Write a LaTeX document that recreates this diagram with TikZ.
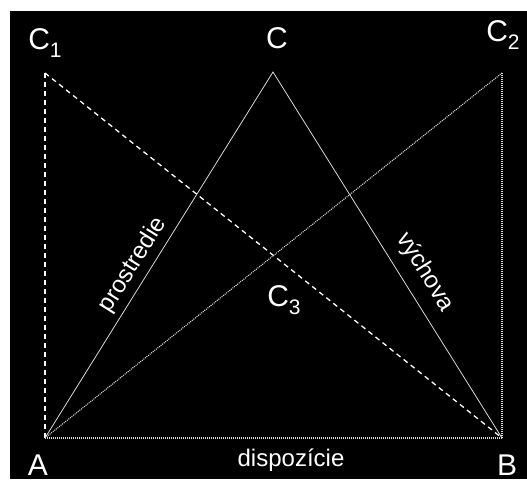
\documentclass[tikz,border=0pt]{standalone}
\usepackage{fontspec}
\setmainfont{Liberation Sans}
\definecolor{lineclr}{gray}{0.85}
\usetikzlibrary{positioning,calc}
\tikzset{
  solidln/.style={lineclr,line width=0.8pt},
  dashln/.style={white,line width=1.3pt,dash pattern=on 5pt off 4pt},
  dotln/.style={lineclr,line width=1.1pt,dash pattern=on 1pt off 1pt},
  ptlab/.style={white,inner sep=0pt,font=\fontsize{30}{30}\selectfont},
  wordlab/.style={white,inner sep=0pt,font=\fontsize{24}{24}\selectfont},
}
\newcommand{\sublab}[1]{\raisebox{-8pt}{\fontsize{21}{21}\selectfont #1}}

\begin{document}
\begin{tikzpicture}[x=1pt,y=-1pt]
  \useasboundingbox (0,0) rectangle (527,479);
  \fill[white] (0,0) rectangle (527,479);
  \fill[black] (10,11) rectangle (527,479);
  % vrcholy
  \coordinate (A)  at (45,438);
  \coordinate (B)  at (502,438);
  \coordinate (C)  at (273,72);
  \coordinate (C1) at (45,73);
  \coordinate (C2) at (502,73);
  % pomocne ciary
  \draw[dashln] (A) -- (C1);
  \draw[dashln] (C1) -- (B);
  \draw[dotln] (A) -- (C2);
  \draw[dotln] (B) -- (C2);
  \draw[dotln] (A) -- (B);
  % trojuholnik
  \draw[solidln] (A) -- (C) -- (B);
  % popisy
  \node[ptlab] (labA)  at (38,465)  {A};
  \node[ptlab] (labB)  at (507,465) {B};
  \node[ptlab] (labC)  at (277,38)  {C};
  \node[ptlab] (labC1) at (45,43)   {C\sublab{1}};
  \node[ptlab] (labC2) at (503,35)  {C\sublab{2}};
  \node[ptlab] (labC3) at (284,300) {C\sublab{3}};
  \node[wordlab] (dispo) at (291,460) {dispozície};
  \node[wordlab,rotate=58]  (prost) at (133,265) {prostredie};
  \node[wordlab,rotate=-58] (vych)  at (425,272) {výchova};
\end{tikzpicture}
\end{document}
